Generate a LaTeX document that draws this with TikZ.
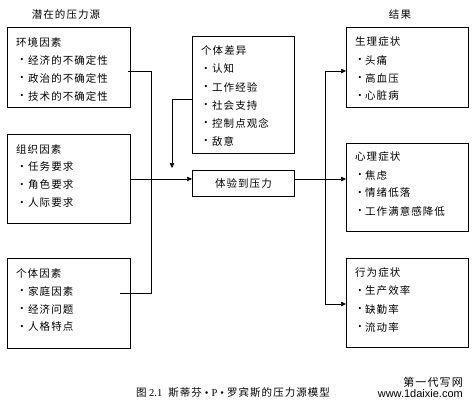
\documentclass[tikz,border=0pt]{standalone}
\usepackage{fontspec}
\setmainfont{Liberation Serif}
\newfontfamily\cjk[LetterSpace=10]{Noto Sans CJK SC}
\newfontfamily\wmsans{Liberation Sans}
\usetikzlibrary{arrows.meta}
\tikzset{
  box/.style={draw, line width=0.9pt, anchor=north west, inner sep=0pt},
  conn/.style={line width=0.6pt},
  arr/.style={conn, -{Triangle[length=5pt,width=4.5pt]}},
  txt/.style={anchor=west, inner sep=0pt, font=\cjk\fontsize{10.5}{12}\selectfont},
  ttl/.style={inner sep=0pt, font=\cjk\fontsize{10.5}{12}\selectfont},
  bul/.style={inner sep=0pt, font=\fontsize{9}{10}\selectfont},
}
\begin{document}
\begin{tikzpicture}[x=1pt,y=-1pt]
\useasboundingbox (0,0) rectangle (476,410);
\fill[white] (0,0) rectangle (476,410);

% titles
\node[ttl] (tl) at (66,15) {潜在的压力源};
\node[ttl] (tr) at (400,15) {结果};

% boxes
\node[box, minimum width=123pt, minimum height=80pt] (env) at (7,27) {};
\node[box, minimum width=123pt, minimum height=89pt] (org) at (7,134) {};
\node[box, minimum width=123pt, minimum height=90pt] (ind) at (7,258) {};
\node[box, minimum width=102pt, minimum height=117pt] (diff) at (192,36) {};
\node[box, minimum width=102pt, minimum height=26pt] (exp) at (192,170) {};
\node[box, minimum width=122pt, minimum height=80pt] (phy) at (346,27) {};
\node[box, minimum width=122pt, minimum height=88pt] (psy) at (346,143) {};
\node[box, minimum width=122pt, minimum height=89pt] (beh) at (346,258) {};

\node[ttl] (expt) at (exp.center) {体验到压力};

% box texts
\node[txt] (envh) at (16,42) {环境因素};
\foreach \t [count=\i] in {经济的不确定性,政治的不确定性,技术的不确定性} {
  \node[bul] (envb\i) at (22,{42+18*\i}) {•};
  \node[txt] (envt\i) at (28,{42+18*\i}) {\t};
}
\node[txt] (orgh) at (16,149) {组织因素};
\foreach \t [count=\i] in {任务要求,角色要求,人际要求} {
  \node[bul] (orgb\i) at (22,{149+18*\i}) {•};
  \node[txt] (orgt\i) at (28,{149+18*\i}) {\t};
}
\node[txt] (indh) at (16,273) {个体因素};
\foreach \t [count=\i] in {家庭因素,经济问题,人格特点} {
  \node[bul] (indb\i) at (22,{273+18*\i}) {•};
  \node[txt] (indt\i) at (28,{273+18*\i}) {\t};
}
\node[txt] (diffh) at (201,51) {个体差异};
\foreach \t [count=\i] in {认知,工作经验,社会支持,控制点观念,敌意} {
  \node[bul] (diffb\i) at (206,{51+18*\i}) {•};
  \node[txt] (difft\i) at (212,{51+18*\i}) {\t};
}
\node[txt] (phyh) at (355,42) {生理症状};
\foreach \t [count=\i] in {头痛,高血压,心脏病} {
  \node[bul] (phyb\i) at (360,{42+18*\i}) {•};
  \node[txt] (phyt\i) at (365,{42+18*\i}) {\t};
}
\node[txt] (psyh) at (355,157) {心理症状};
\foreach \t [count=\i] in {焦虑,情绪低落,工作满意感降低} {
  \node[bul] (psyb\i) at (360,{157+18*\i}) {•};
  \node[txt] (psyt\i) at (365,{157+18*\i}) {\t};
}
\node[txt] (behh) at (355,273) {行为症状};
\foreach \t [count=\i] in {生产效率,缺勤率,流动率} {
  \node[bul] (behb\i) at (360,{273+18*\i}) {•};
  \node[txt] (beht\i) at (365,{273+18*\i}) {\t};
}

% left connectors
\coordinate (s1) at (128,71);
\coordinate (c1) at (151,71);
\coordinate (c3) at (151,293);
\coordinate (s3) at (120,293);
\draw[conn] (s1) -- (c1) -- (c3) -- (s3);
\draw[arr] (org.east) -- (exp.west |- org.east);

% individual differences arrow
\coordinate (d0) at (172,99);
\coordinate (d1) at (172,168);
\draw[arr] (diff.west |- d0) -- (d0) -- (d1);

% right connectors
\coordinate (r0) at (325,179);
\coordinate (rt) at (325,71);
\coordinate (rb) at (325,304);
\draw[conn] (exp.east |- r0) -- (r0);
\draw[conn] (rt) -- (rb);
\draw[arr] (rt) -- (phy.west |- rt);
\draw[arr] (r0) -- (psy.west |- r0);
\draw[arr] (rb) -- (beh.west |- rb);

% caption
\node[inner sep=0pt, font=\fontsize{10.5}{12}\selectfont] (cap) at (233,393)
  {{\cjk 图} 2.1\hspace{6pt}{\cjk 斯蒂芬}\hspace{3pt}•\hspace{3pt}P\hspace{3pt}•\hspace{3pt}{\cjk 罗宾斯的压力源模型}};

% watermark
\node[anchor=east, inner sep=0pt, font=\cjk\fontsize{11}{12}\selectfont] (wm1) at (463,382) {第一代写网};
\node[anchor=east, inner sep=0pt, font=\wmsans\fontsize{11}{12}\selectfont] (wm2) at (463,394) {www.1daixie.com};
\end{tikzpicture}
\end{document}
